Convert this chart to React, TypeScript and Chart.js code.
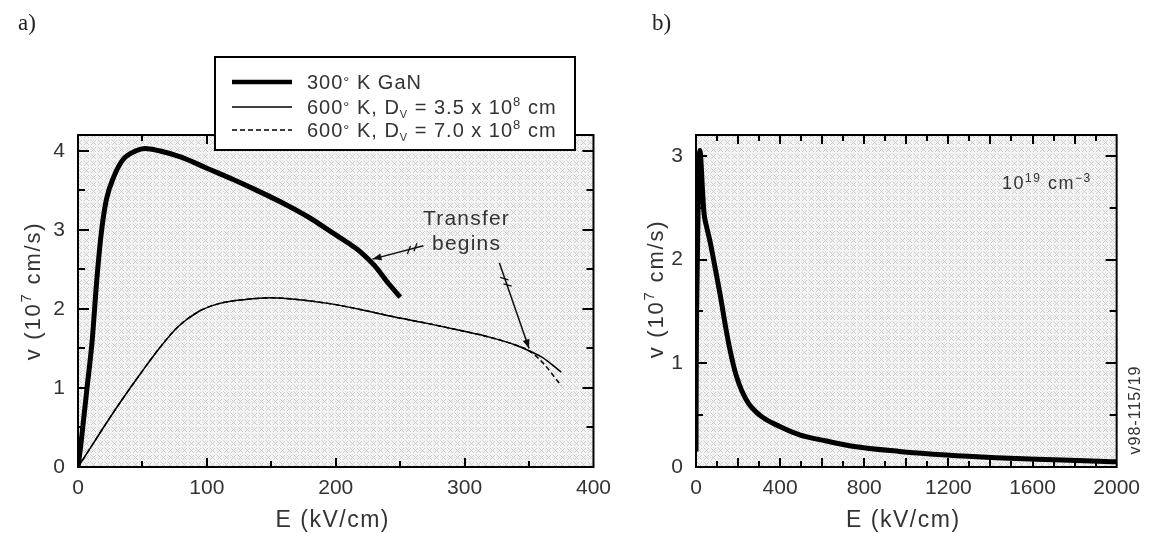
import React, { useEffect, useRef } from 'react';
import { Chart, registerables } from 'chart.js';

Chart.register(...registerables);

// ---------- Data (panel a) ----------
const A_THICK_E = [0, 2, 4, 7, 11, 14.5, 18, 22, 28, 35, 45, 52, 63, 80, 100, 120, 140, 160, 180, 195, 210, 220, 230, 240, 250];
const A_THICK_V = [0, 0.25, 0.55, 1.0, 1.6, 2.35, 2.95, 3.38, 3.68, 3.89, 4.0, 4.03, 4.0, 3.92, 3.78, 3.64, 3.49, 3.33, 3.15, 2.99, 2.83, 2.71, 2.55, 2.34, 2.15];
const A_THIN_E = [0, 8, 17, 32, 48, 63, 78, 94, 110, 130, 150, 170, 194, 220, 245, 270, 296, 320, 340, 350, 360, 375];
const A_THIN_V = [0, 0.2, 0.43, 0.8, 1.17, 1.5, 1.78, 1.97, 2.07, 2.12, 2.14, 2.12, 2.07, 1.99, 1.9, 1.82, 1.73, 1.64, 1.54, 1.47, 1.39, 1.2];
const A_DASH_E = [0, 8, 17, 32, 48, 63, 78, 94, 110, 130, 150, 170, 194, 220, 245, 270, 296, 320, 340, 350, 360, 375];
const A_DASH_V = [0, 0.2, 0.43, 0.8, 1.17, 1.5, 1.78, 1.97, 2.07, 2.12, 2.14, 2.12, 2.07, 1.99, 1.9, 1.82, 1.73, 1.64, 1.54, 1.47, 1.33, 1.03];

const A_X_TICKS = [0, 100, 200, 300, 400];
const A_Y_TICKS = [0, 1, 2, 3, 4];
const A_X_MAJOR = [100, 200, 300];
const A_X_MINOR = [50, 150, 250, 350];
const A_Y_MAJOR = [1, 2, 3, 4];
const A_Y_MINOR = [0.5, 1.5, 2.5, 3.5];

// ---------- Data (panel b) ----------
const B_E = [0, 1, 5, 10, 15, 19, 25, 30, 38, 50, 66, 90, 114, 146, 170, 193, 241, 303, 398, 493, 620, 744, 967, 1190, 1426, 1700, 1915, 2000];
const B_V = [0.15, 0.9, 1.8, 2.5, 2.95, 3.05, 2.9, 2.7, 2.45, 2.32, 2.18, 1.93, 1.67, 1.29, 1.05, 0.87, 0.64, 0.5, 0.39, 0.31, 0.25, 0.2, 0.15, 0.115, 0.09, 0.07, 0.055, 0.05];

const B_X_TICKS = [0, 400, 800, 1200, 1600, 2000];
const B_Y_TICKS = [0, 1, 2, 3];
const B_X_MAJOR = [200, 400, 600, 800, 1000, 1200, 1400, 1600, 1800];
const B_X_MINOR = [100, 300, 500, 700, 900, 1100, 1300, 1500, 1700, 1900];
const B_Y_MAJOR = [1, 2, 3];
const B_Y_MINOR = [0.5, 1.5, 2.5];

// ---------- Annotations ----------
const A_TEXT_LINES = [
  { t: 'Transfer', x: 301.5, y: 3.06 },
  { t: 'begins', x: 301.5, y: 2.75 },
];
const A_ARROWS = [
  { from: [268, 2.8], to: [228.5, 2.63] },
  { from: [327, 2.58], to: [350, 1.5] },
];
const B_NOTE_POS = [1455, 2.68];

const FONT = '"Liberation Sans", Arial, Helvetica, sans-serif';
const SERIF = '"Liberation Serif", "Times New Roman", serif';
const TEXT = '#333';

type Seg = { t: string; s: number; dy?: number };

function richWidth(ctx: CanvasRenderingContext2D, segs: Seg[], ls: number) {
  let w = 0;
  for (const g of segs) {
    ctx.font = `${g.s}px ${FONT}`;
    w += ctx.measureText(g.t).width + ls * g.t.length;
  }
  return w;
}

function drawRich(ctx: CanvasRenderingContext2D, segs: Seg[], x: number, y: number, align: 'left' | 'center', ls = 0) {
  const c: any = ctx;
  c.letterSpacing = '0px';
  const w = richWidth(ctx, segs, ls);
  let cx = align === 'center' ? x - w / 2 : x;
  ctx.textAlign = 'left';
  ctx.textBaseline = 'alphabetic';
  for (const g of segs) {
    ctx.font = `${g.s}px ${FONT}`;
    const base = ctx.measureText(g.t).width;
    c.letterSpacing = `${ls}px`;
    ctx.fillText(g.t, cx, y + (g.dy || 0));
    c.letterSpacing = '0px';
    cx += base + ls * g.t.length;
  }
}

let patternCache: CanvasPattern | null = null;
function getPattern(ctx: CanvasRenderingContext2D) {
  if (patternCache) return patternCache;
  const c = document.createElement('canvas');
  c.width = 7;
  c.height = 7;
  const g = c.getContext('2d')!;
  g.fillStyle = '#f5f5f5';
  g.fillRect(0, 0, 7, 7);
  g.fillStyle = '#cbcbcb';
  for (let i = 0; i < 5; i++) {
    g.fillRect(i, i, 1, 1);
    g.fillRect(4 - i, i, 1, 1);
  }
  g.fillStyle = '#dadada';
  g.fillRect(6, 2, 1, 1);
  g.fillRect(2, 6, 1, 1);
  g.fillRect(6, 6, 1, 1);
  patternCache = ctx.createPattern(c, 'repeat');
  return patternCache;
}

function drawArrow(ctx: CanvasRenderingContext2D, x1: number, y1: number, x2: number, y2: number) {
  ctx.save();
  ctx.strokeStyle = '#111';
  ctx.fillStyle = '#111';
  ctx.lineWidth = 1.5;
  ctx.beginPath();
  ctx.moveTo(x1, y1);
  ctx.lineTo(x2, y2);
  ctx.stroke();
  const ang = Math.atan2(y2 - y1, x2 - x1);
  const L = 9, W = 3.5;
  ctx.beginPath();
  ctx.moveTo(x2, y2);
  ctx.lineTo(x2 - L * Math.cos(ang) + W * Math.sin(ang), y2 - L * Math.sin(ang) - W * Math.cos(ang));
  ctx.lineTo(x2 - L * Math.cos(ang) - W * Math.sin(ang), y2 - L * Math.sin(ang) + W * Math.cos(ang));
  ctx.closePath();
  ctx.fill();
  // small break squiggle near the tail
  const t = 0.22;
  const mx = x1 + (x2 - x1) * t, my = y1 + (y2 - y1) * t;
  const px = -Math.sin(ang), py = Math.cos(ang);
  const dx = Math.cos(ang), dy = Math.sin(ang);
  ctx.lineWidth = 1.3;
  ctx.beginPath();
  ctx.moveTo(mx - 6 * dx + 4 * px, my - 6 * dy + 4 * py);
  ctx.lineTo(mx - 1 * dx - 3 * px, my - 1 * dy - 3 * py);
  ctx.moveTo(mx + 1 * dx + 3 * px, my + 1 * dy + 3 * py);
  ctx.lineTo(mx + 6 * dx - 4 * px, my + 6 * dy - 4 * py);
  ctx.stroke();
  ctx.restore();
}

interface Panel {
  xMin: number; xMax: number; yMin: number; yMax: number;
  xTicks: number[]; yTicks: number[];
  xMajor: number[]; xMinor: number[]; yMajor: number[]; yMinor: number[];
  yAxisWidth: number; padRight: number;
  datasets: any[];
  letter: string; letterX: number;
  yTitleX: number; yTitleY: number;
  extras: (chart: any, ctx: CanvasRenderingContext2D) => void;
}

function framePlugin(p: Panel) {
  return {
    id: 'frame',
    beforeDatasetsDraw(chart: any) {
      const { ctx, chartArea: a } = chart;
      ctx.save();
      ctx.fillStyle = getPattern(ctx);
      ctx.fillRect(a.left, a.top, a.right - a.left, a.bottom - a.top);
      ctx.restore();
    },
    afterDatasetsDraw(chart: any) {
      const { ctx, chartArea: a } = chart;
      const xs = chart.scales.x, ys = chart.scales.y;
      ctx.save();
      ctx.strokeStyle = '#000';
      ctx.lineWidth = 2;
      ctx.strokeRect(a.left, a.top, a.right - a.left, a.bottom - a.top);
      ctx.lineWidth = 2;
      ctx.beginPath();
      const xt = (vals: number[], len: number) => {
        for (const v of vals) {
          const px = Math.round(xs.getPixelForValue(v));
          ctx.moveTo(px, a.bottom); ctx.lineTo(px, a.bottom - len);
          ctx.moveTo(px, a.top); ctx.lineTo(px, a.top + len);
        }
      };
      const yt = (vals: number[], len: number) => {
        for (const v of vals) {
          const py = Math.round(ys.getPixelForValue(v));
          ctx.moveTo(a.left, py); ctx.lineTo(a.left + len, py);
          ctx.moveTo(a.right, py); ctx.lineTo(a.right - len, py);
        }
      };
      xt(p.xMajor, 9); xt(p.xMinor, 6);
      yt(p.yMajor, 11); yt(p.yMinor, 7);
      ctx.stroke();

      // axis titles
      ctx.fillStyle = TEXT;
      drawRich(ctx, [{ t: 'E (kV/cm)', s: 23 }], (a.left + a.right) / 2 - 3, 527, 'center', 1.5);
      ctx.save();
      ctx.translate(p.yTitleX, p.yTitleY);
      ctx.rotate(-Math.PI / 2);
      drawRich(ctx, [{ t: 'v (10', s: 22 }, { t: '7', s: 15, dy: -9 }, { t: ' cm/s)', s: 22 }], 0, 8, 'center', 1.8);
      ctx.restore();

      // panel letter
      (ctx as any).letterSpacing = '0px';
      ctx.font = `23px ${SERIF}`;
      ctx.fillStyle = '#222';
      ctx.textAlign = 'left';
      ctx.textBaseline = 'alphabetic';
      ctx.fillText(p.letter, p.letterX, 30);

      p.extras(chart, ctx);
      ctx.restore();
    },
  };
}

function makeConfig(p: Panel): any {
  return {
    type: 'line',
    data: { datasets: p.datasets },
    options: {
      responsive: false,
      animation: false,
      devicePixelRatio: 1,
      layout: { padding: { left: 0, right: p.padRight, top: 135, bottom: 0 } },
      plugins: { legend: { display: false }, tooltip: { enabled: false }, title: { display: false } },
      elements: { point: { radius: 0 } },
      scales: {
        x: {
          type: 'linear', min: p.xMin, max: p.xMax,
          grid: { display: false, drawTicks: false },
          border: { display: false },
          ticks: { font: { family: FONT, size: 21 }, color: TEXT, padding: 9, maxRotation: 0, autoSkip: false, callback: (v: any) => String(v) },
          afterBuildTicks: (s: any) => { s.ticks = p.xTicks.map((v) => ({ value: v })); },
          afterFit: (s: any) => { s.height = 66; },
        },
        y: {
          type: 'linear', min: p.yMin, max: p.yMax,
          grid: { display: false, drawTicks: false },
          border: { display: false },
          ticks: { font: { family: FONT, size: 21 }, color: TEXT, padding: 13, autoSkip: false, callback: (v: any) => String(v) },
          afterBuildTicks: (s: any) => { s.ticks = p.yTicks.map((v) => ({ value: v })); },
          afterFit: (s: any) => { s.width = p.yAxisWidth; },
        },
      },
    },
    plugins: [framePlugin(p)],
  };
}

const pts = (xs: number[], ys: number[]) => xs.map((x, i) => ({ x, y: ys[i] }));

const lineDs = (data: any[], width: number, dash: number[] = []) => ({
  data,
  borderColor: '#000',
  borderWidth: width,
  borderDash: dash,
  pointRadius: 0,
  fill: false,
  cubicInterpolationMode: 'monotone',
  borderJoinStyle: 'round',
});

function drawLegend(ctx: CanvasRenderingContext2D) {
  const L = 215, T = 57, R = 575, B = 150;
  ctx.save();
  ctx.fillStyle = '#fff';
  ctx.fillRect(L, T, R - L, B - T);
  ctx.strokeStyle = '#000';
  ctx.lineWidth = 2;
  ctx.strokeRect(L, T, R - L, B - T);
  const rows: { w: number; dash: number[]; y: number; segs: Seg[] }[] = [
    { w: 4.5, dash: [], y: 82, segs: [{ t: '300', s: 20 }, { t: '°', s: 15, dy: -2 }, { t: ' K GaN', s: 20 }] },
    { w: 1.5, dash: [], y: 107, segs: [{ t: '600', s: 20 }, { t: '°', s: 15, dy: -2 }, { t: ' K, D', s: 20 }, { t: 'V', s: 11, dy: 4 }, { t: ' = 3.5 x 10', s: 20 }, { t: '8', s: 13, dy: -8 }, { t: ' cm', s: 20 }] },
    { w: 1.5, dash: [5, 3], y: 130, segs: [{ t: '600', s: 20 }, { t: '°', s: 15, dy: -2 }, { t: ' K, D', s: 20 }, { t: 'V', s: 11, dy: 4 }, { t: ' = 7.0 x 10', s: 20 }, { t: '8', s: 13, dy: -8 }, { t: ' cm', s: 20 }] },
  ];
  for (const r of rows) {
    ctx.beginPath();
    ctx.setLineDash(r.dash);
    ctx.lineWidth = r.w;
    ctx.strokeStyle = '#000';
    ctx.moveTo(232, r.y);
    ctx.lineTo(292, r.y);
    ctx.stroke();
    ctx.setLineDash([]);
    ctx.fillStyle = TEXT;
    drawRich(ctx, r.segs, 307, r.y + 7, 'left', 1);
  }
  ctx.restore();
}

const panelA: Panel = {
  xMin: 0, xMax: 400, yMin: 0, yMax: 4.2,
  xTicks: A_X_TICKS, yTicks: A_Y_TICKS,
  xMajor: A_X_MAJOR, xMinor: A_X_MINOR, yMajor: A_Y_MAJOR, yMinor: A_Y_MINOR,
  yAxisWidth: 78, padRight: 22,
  datasets: [
    lineDs(pts(A_THIN_E, A_THIN_V), 1.5),
    lineDs(pts(A_DASH_E, A_DASH_V), 1.5, [5, 3]),
    lineDs(pts(A_THICK_E, A_THICK_V), 5),
  ],
  letter: 'a)', letterX: 18,
  yTitleX: 32, yTitleY: 291,
  extras: (chart, ctx) => {
    const xs = chart.scales.x, ys = chart.scales.y;
    ctx.fillStyle = TEXT;
    for (const l of A_TEXT_LINES) {
      drawRich(ctx, [{ t: l.t, s: 21 }], xs.getPixelForValue(l.x), ys.getPixelForValue(l.y), 'center', 1.2);
    }
    for (const a of A_ARROWS) {
      drawArrow(ctx, xs.getPixelForValue(a.from[0]), ys.getPixelForValue(a.from[1]), xs.getPixelForValue(a.to[0]), ys.getPixelForValue(a.to[1]));
    }
    drawLegend(ctx);
  },
};

const panelB: Panel = {
  xMin: 0, xMax: 2000, yMin: 0, yMax: 3.2,
  xTicks: B_X_TICKS, yTicks: B_Y_TICKS,
  xMajor: B_X_MAJOR, xMinor: B_X_MINOR, yMajor: B_Y_MAJOR, yMinor: B_Y_MINOR,
  yAxisWidth: 76, padRight: 31,
  datasets: [lineDs(pts(B_E, B_V), 5)],
  letter: 'b)', letterX: 32,
  yTitleX: 35, yTitleY: 289,
  extras: (chart, ctx) => {
    const xs = chart.scales.x, ys = chart.scales.y;
    const a = chart.chartArea;
    ctx.fillStyle = TEXT;
    drawRich(ctx, [{ t: '10', s: 18 }, { t: '19', s: 12, dy: -7 }, { t: ' cm', s: 18 }, { t: '−3', s: 12, dy: -7 }], xs.getPixelForValue(B_NOTE_POS[0]), ys.getPixelForValue(B_NOTE_POS[1]), 'left', 1.5);
    ctx.save();
    ctx.translate(a.right + 18, 410);
    ctx.rotate(-Math.PI / 2);
    drawRich(ctx, [{ t: 'v98-115/19', s: 16 }], 0, 5, 'center', 1);
    ctx.restore();
  },
};

export default function App() {
  const refA = useRef<HTMLCanvasElement>(null);
  const refB = useRef<HTMLCanvasElement>(null);
  useEffect(() => {
    document.body.style.margin = '0';
    const ca = new Chart(refA.current!, makeConfig(panelA));
    const cb = new Chart(refB.current!, makeConfig(panelB));
    return () => {
      ca.destroy();
      cb.destroy();
    };
  }, []);
  return (
    <div style={{ position: 'relative', width: 1149, height: 533, background: '#fff', overflow: 'hidden' }}>
      <canvas ref={refA} width={620} height={533} style={{ position: 'absolute', left: 0, top: 0 }} />
      <canvas ref={refB} width={529} height={533} style={{ position: 'absolute', left: 620, top: 0 }} />
    </div>
  );
}
